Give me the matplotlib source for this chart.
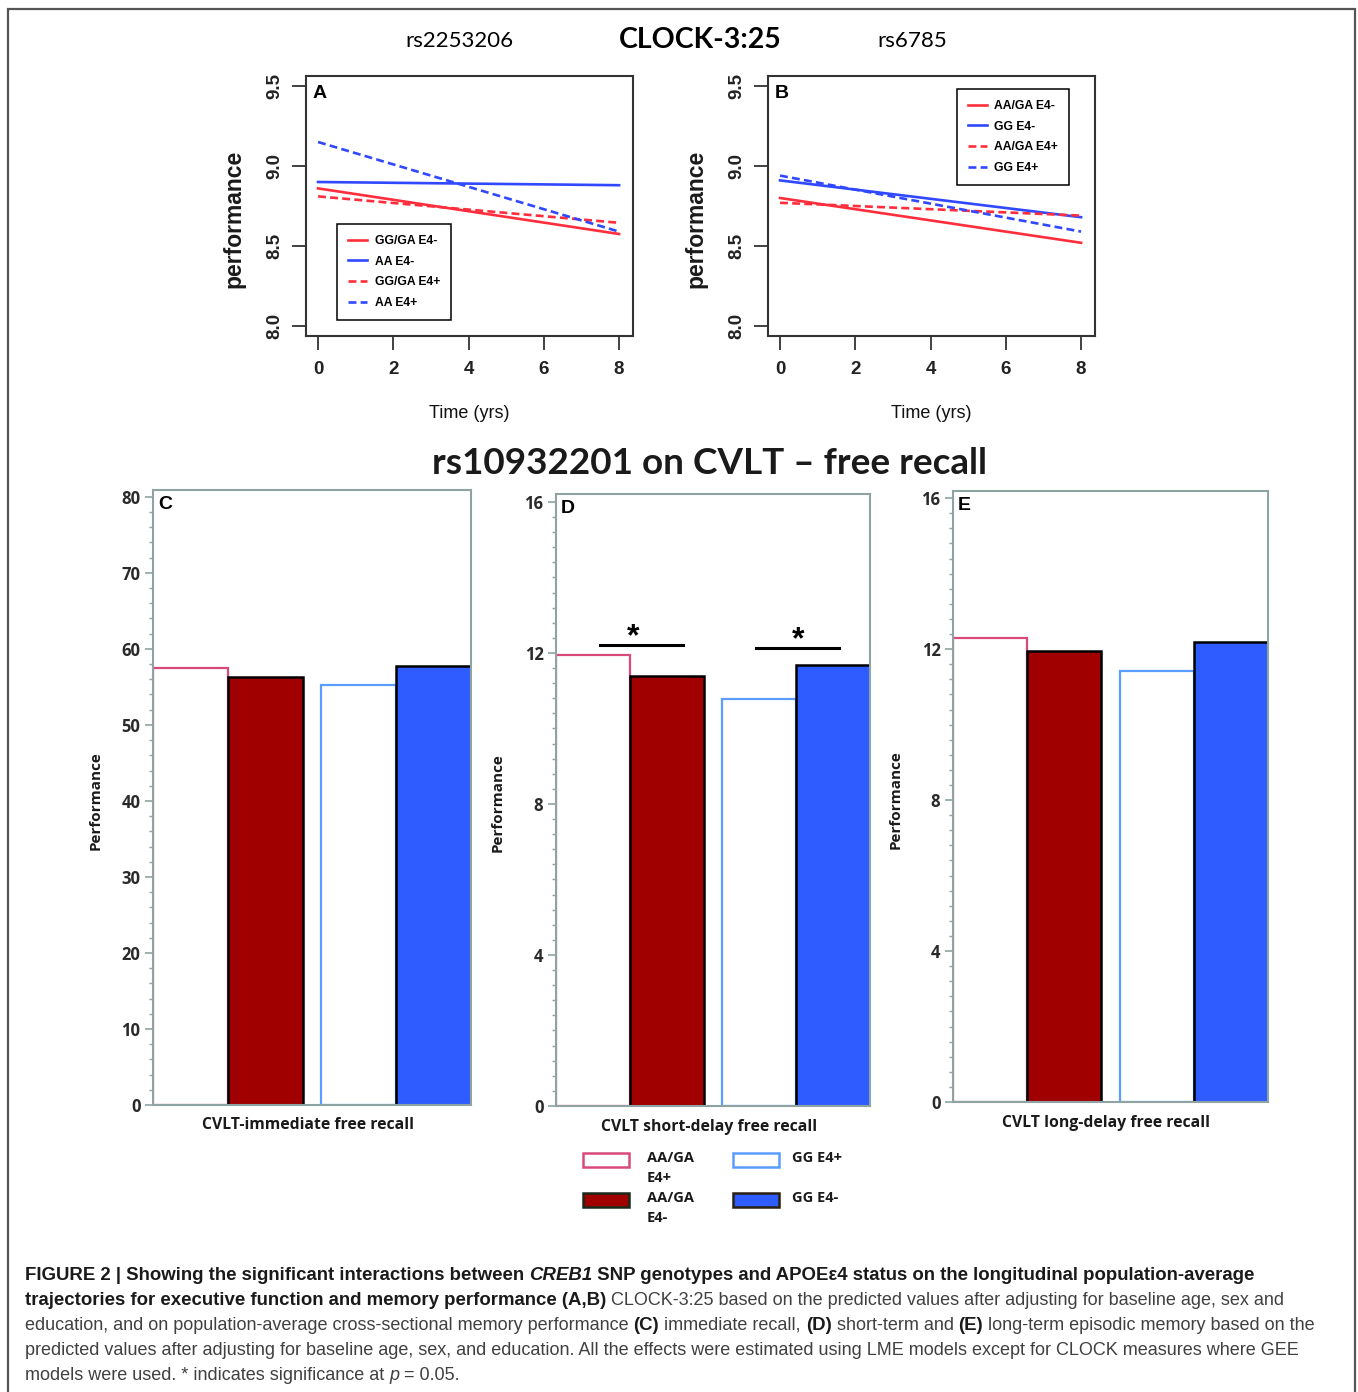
import matplotlib
matplotlib.use("Agg")
import matplotlib.pyplot as plt
from matplotlib import font_manager
from matplotlib.patches import Rectangle
from matplotlib.ticker import MultipleLocator

W, H = 1358, 1392

# --- data ---
time = [0, 8]
A_ggga_neg = [8.86, 8.575]
A_aa_neg = [8.90, 8.88]
A_ggga_pos = [8.81, 8.645]
A_aa_pos = [9.15, 8.59]
B_aaga_neg = [8.80, 8.52]
B_gg_neg = [8.91, 8.68]
B_aaga_pos = [8.77, 8.69]
B_gg_pos = [8.94, 8.59]

groups = ["AA/GA\nE4+", "AA/GA\nE4-", "GG E4+", "GG E4-"]
bar_x = [0.5, 1.5, 2.75, 3.75]
C_vals = [57.5, 56.3, 55.2, 57.7]
D_vals = [11.94, 11.40, 10.78, 11.69]
E_vals = [12.30, 11.95, 11.42, 12.20]
D_sig = [(0.60, 1.72, 12.21, 1.05), (2.71, 3.83, 12.13, 3.28)]


def has_font(name):
    try:
        font_manager.findfont(name, fallback_to_default=False)
        return True
    except ValueError:
        return False


SANS = "Liberation Sans"
CAL = "Lato"
SEG = "Open Sans"
CAP = "Liberation Sans Narrow" if has_font("Liberation Sans Narrow") else "Liberation Sans"

RED = "#ff2e3c"
BLUE = "#3048ff"
PINK = "#d94a7a"
DKRED = "#a00000"
LBLUE = "#5a9cff"
BBLUE = "#2f5cff"
GRID_GREY = "#8fa3a3"

fig = plt.figure(figsize=(W / 100, H / 100), dpi=100)


def box(l, t, r, b):
    return [l / W, 1 - b / H, (r - l) / W, (b - t) / H]


def ftext(x, y, s, **kw):
    return fig.text(x / W, 1 - y / H, s, **kw)


fig.add_artist(Rectangle((8 / W, -0.01), (1355 - 8) / W, 1 - 9 / H + 0.01,
                         transform=fig.transFigure, fill=False,
                         edgecolor="#555555", lw=1.6))

# --- line panels ---
dash = (0, (3, 1.6))


def line_panel(rect, letter, series, labels, leg_anchor):
    ax = fig.add_axes(box(*rect))
    styles = [(RED, "-"), (BLUE, "-"), (RED, dash), (BLUE, dash)]
    for vals, lab, (c, ls) in zip(series, labels, styles):
        ax.plot(time, vals, color=c, ls=ls, lw=1.9, label=lab)
    ax.set_xlim(-0.32, 8.37)
    ax.set_ylim(7.9375, 9.5625)
    ax.set_xticks([0, 2, 4, 6, 8])
    ax.set_yticks([8.0, 8.5, 9.0, 9.5])
    ax.set_yticklabels(["8.0", "8.5", "9.0", "9.5"])
    for s in ax.spines.values():
        s.set_color("#333333")
        s.set_linewidth(1.5)
    ax.tick_params(length=10, width=1.3, color="#333333", labelsize=13.5,
                   labelcolor="#222222")
    ax.tick_params(axis="x", pad=8)
    ax.tick_params(axis="y", pad=6)
    for lab in ax.get_yticklabels():
        lab.set_rotation(90)
        lab.set_va("center")
        lab.set_ha("right")
        lab.set_family(SANS)
        lab.set_fontweight("bold")
    for lab in ax.get_xticklabels():
        lab.set_family(SANS)
        lab.set_fontweight("bold")
    ax.text(0.02, 0.965, letter, transform=ax.transAxes, fontsize=14,
            fontweight="bold", family=SANS, va="top", ha="left")
    leg = ax.legend(loc="upper left", bbox_to_anchor=leg_anchor,
                    borderaxespad=0, fancybox=False, edgecolor="black",
                    framealpha=1, prop={"family": SANS, "weight": "bold", "size": 8.7},
                    handlelength=1.6, labelspacing=0.72, borderpad=0.9,
                    handletextpad=0.6)
    leg.get_frame().set_linewidth(1.1)
    return ax


line_panel((306, 76, 633, 336), "A", [A_ggga_neg, A_aa_neg, A_ggga_pos, A_aa_pos],
           ["GG/GA E4-", "AA E4-", "GG/GA E4+", "AA E4+"], (0.095, 0.431))
line_panel((768, 76, 1095, 336), "B", [B_aaga_neg, B_gg_neg, B_aaga_pos, B_gg_pos],
           ["AA/GA E4-", "GG E4-", "AA/GA E4+", "GG E4+"], (0.578, 0.95))

for x in (234, 696):
    ftext(x, 219, "performance", rotation=90, ha="center", va="center",
          fontsize=16.5, fontweight="bold", family=SANS, color="#1a1a1a")
for x in (469, 931):
    ftext(x, 413, "Time (yrs)", ha="center", va="center", fontsize=13,
          family=SANS, color="#111111")

ftext(459, 41, "rs2253206", ha="center", va="center", fontsize=16, family=CAL)
ftext(700, 40, "CLOCK-3:25", ha="center", va="center", fontsize=20.5,
      fontweight="bold", family=CAL)
ftext(912, 41, "rs6785", ha="center", va="center", fontsize=16, family=CAL)

ftext(709, 463, "rs10932201 on CVLT \u2013 free recall", ha="center", va="center",
      fontsize=26.6, fontweight="bold", family=CAL, color="#1a1a1a")

# --- bar panels ---
edges = [PINK, "black", LBLUE, "black"]
faces = ["white", DKRED, "white", BBLUE]


def bar_panel(rect, letter, vals, ymax, major, minor, xlabel, xlab_y, ylab_x):
    ax = fig.add_axes(box(*rect))
    order = [0, 2, 1, 3]
    for i in order:
        ax.bar(bar_x[i], vals[i], width=1.0, color=faces[i], edgecolor=edges[i],
               linewidth=1.6 if faces[i] == "white" else 1.8, zorder=2)
    ax.set_xlim(0, 4.25)
    ax.set_ylim(0, ymax)
    ax.set_xticks([])
    ax.yaxis.set_major_locator(MultipleLocator(major))
    ax.yaxis.set_minor_locator(MultipleLocator(minor))
    for s in ax.spines.values():
        s.set_color(GRID_GREY)
        s.set_linewidth(1.5)
        s.set_zorder(3)
    ax.tick_params(axis="y", which="major", length=6, width=1.2, color=GRID_GREY,
                   labelsize=12, labelcolor="#2a2a2a", pad=3)
    ax.tick_params(axis="y", which="minor", length=3, width=1.0, color=GRID_GREY)
    for lab in ax.get_yticklabels():
        lab.set_fontweight("bold")
        lab.set_family(SEG)
    ax.text(0.015, 0.99, letter, transform=ax.transAxes, fontsize=14,
            fontweight="bold", family=SANS, va="top", ha="left")
    cx = (rect[0] + rect[2]) / 2
    ftext(cx - 4, xlab_y, xlabel, ha="center", va="center", fontsize=11.3,
          fontweight="bold", family=SEG, color="#1a1a1a")
    ftext(ylab_x, (rect[1] + rect[3]) / 2 + 3, "Performance", rotation=90,
          ha="center", va="center", fontsize=11, fontweight="bold", family=SEG,
          color="#1a1a1a")
    return ax


bar_panel((153, 490, 471, 1105), "C", C_vals, 80.9, 10, 2,
          "CVLT-immediate free recall", 1125, 96)
axD = bar_panel((556, 494, 870, 1106), "D", D_vals, 16.21, 4, 0.4,
                "CVLT short-delay free recall", 1127, 498)
bar_panel((953, 491, 1268, 1102), "E", E_vals, 16.19, 4, 0.4,
          "CVLT long-delay free recall", 1123, 896)

for x0, x1, y, xs in D_sig:
    axD.plot([x0, x1], [y, y], color="black", lw=2.2, zorder=4)
    axD.text(xs, y - 0.2, "*", ha="center", va="bottom", fontsize=23,
             fontweight="bold", family=SANS)

# --- bottom legend ---
leg_rows = [(583, 1153, 647), (583, 1193, 647), (733, 1153, 792), (733, 1193, 792)]
for (lx, ly, tx), lab, fc, ec in zip(leg_rows, groups, faces,
                                     [PINK, "#1a2a1a", LBLUE, "#2a2010"]):
    fig.add_artist(Rectangle((lx / W, 1 - (ly + 14) / H), 46 / W, 14 / H,
                             transform=fig.transFigure, facecolor=fc,
                             edgecolor=ec, lw=1.8))
    ftext(tx, ly - 2, lab, ha="left", va="top", fontsize=10.5, fontweight="bold",
          family=SEG, color="#1a1a1a", linespacing=1.5)

# --- caption ---
renderer = fig.canvas.get_renderer()
cap_rows = [
    [("FIGURE 2 | Showing the significant interactions between ", "bold", "normal"),
     ("CREB1", "bold", "italic"),
     (" SNP genotypes and APOE\u03b54 status on the longitudinal population-average", "bold", "normal")],
    [("trajectories for executive function and memory performance (A,B)", "bold", "normal"),
     (" CLOCK-3:25 based on the predicted values after adjusting for baseline age, sex and", "normal", "normal")],
    [("education, and on population-average cross-sectional memory performance ", "normal", "normal"),
     ("(C)", "bold", "normal"), (" immediate recall, ", "normal", "normal"),
     ("(D)", "bold", "normal"), (" short-term and ", "normal", "normal"),
     ("(E)", "bold", "normal"),
     (" long-term episodic memory based on the", "normal", "normal")],
    [("predicted values after adjusting for baseline age, sex, and education. All the effects were estimated using LME models except for CLOCK measures where GEE", "normal", "normal")],
    [("models were used. * indicates significance at ", "normal", "normal"),
     ("p", "normal", "italic"), (" = 0.05.", "normal", "normal")],
]


def run_width(s, size, weight, style):
    prop = font_manager.FontProperties(family=CAP, size=size, weight=weight, style=style)
    w1, _, _ = renderer.get_text_width_height_descent(s + "|", prop, ismath=False)
    w2, _, _ = renderer.get_text_width_height_descent("|", prop, ismath=False)
    return w1 - w2


test = run_width(cap_rows[3][0][0], 12, "normal", "normal")
cap_size = min(12 * 1275 / test, 14.5)
bold_size = cap_size * 1.035

for i, row in enumerate(cap_rows):
    x = 25
    y = 1275 + i * 25.2
    for s, wt, st in row:
        sz = bold_size if wt == "bold" else cap_size
        ftext(x, y, s, ha="left", va="center", fontsize=sz, fontweight=wt,
              fontstyle=st, family=CAP,
              color="#1a1a1a" if wt == "bold" else "#404040")
        x += run_width(s, sz, wt, st)

fig.savefig("out.png", dpi=100)
